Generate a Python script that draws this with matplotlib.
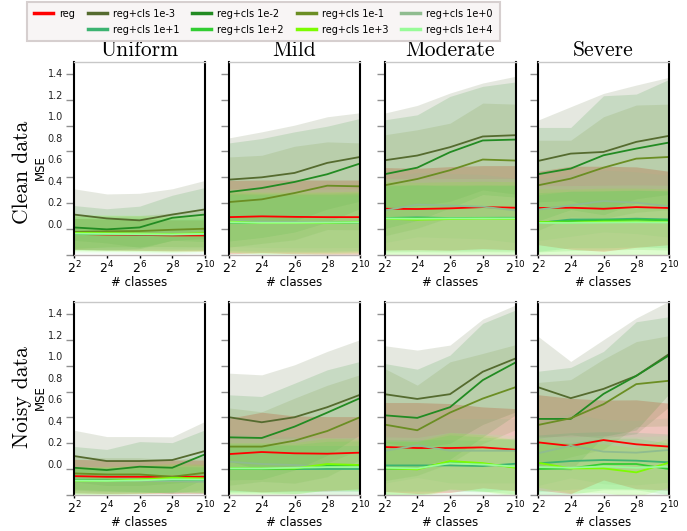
import matplotlib
matplotlib.use("Agg")
import matplotlib.pyplot as plt
from matplotlib.lines import Line2D
import numpy as np

# ---------------- data ----------------
N_CLASSES = [4, 16, 64, 256, 1024]
SERIES = ["reg", "reg+cls 1e-3", "reg+cls 1e-2", "reg+cls 1e-1", "reg+cls 1e+0",
          "reg+cls 1e+1", "reg+cls 1e+2", "reg+cls 1e+3", "reg+cls 1e+4"]
COLORS = ["#ff0000", "#556b2f", "#228b22", "#6b8e23", "#8fbc8f",
          "#3cb371", "#32cd32", "#7cfc00", "#98fb98"]
COL_TITLES = ["Uniform", "Mild", "Moderate", "Severe"]
ROW_TITLES = ["Clean data", "Noisy data"]
YTICK_LABELS = ["1.4", "1.2", "1.0", "0.8", "0.6", "0.4", "0.2", "0.0"]

CLEAN_UNIFORM_MEAN = [
    [0.160, 0.155, 0.152, 0.148, 0.148],
    [0.310, 0.280, 0.265, 0.310, 0.350],
    [0.210, 0.195, 0.210, 0.285, 0.310],
    [0.175, 0.180, 0.182, 0.192, 0.200],
    [0.165, 0.162, 0.160, 0.158, 0.160],
    [0.160, 0.158, 0.155, 0.155, 0.158],
    [0.165, 0.162, 0.160, 0.158, 0.162],
    [0.168, 0.165, 0.162, 0.158, 0.165],
    [0.162, 0.160, 0.158, 0.156, 0.160]]
CLEAN_UNIFORM_STD = [
    [0.12, 0.12, 0.12, 0.12, 0.12],
    [0.20, 0.19, 0.21, 0.20, 0.225],
    [0.17, 0.16, 0.165, 0.175, 0.21],
    [0.13, 0.12, 0.12, 0.13, 0.14],
    [0.11, 0.11, 0.11, 0.11, 0.11],
    [0.12, 0.12, 0.12, 0.12, 0.12],
    [0.13, 0.13, 0.13, 0.13, 0.13],
    [0.14, 0.14, 0.14, 0.14, 0.14],
    [0.15, 0.15, 0.15, 0.15, 0.15]]

CLEAN_MILD_MEAN = [
    [0.290, 0.296, 0.292, 0.290, 0.290],
    [0.581, 0.599, 0.633, 0.711, 0.757],
    [0.485, 0.516, 0.563, 0.623, 0.706],
    [0.407, 0.428, 0.477, 0.534, 0.529],
    [0.262, 0.255, 0.252, 0.252, 0.255],
    [0.250, 0.245, 0.245, 0.245, 0.250],
    [0.248, 0.244, 0.244, 0.246, 0.250],
    [0.256, 0.244, 0.244, 0.246, 0.252],
    [0.250, 0.246, 0.246, 0.248, 0.250]]
CLEAN_MILD_STD = [
    [0.285, 0.282, 0.286, 0.288, 0.288],
    [0.324, 0.353, 0.371, 0.358, 0.343],
    [0.381, 0.384, 0.389, 0.373, 0.350],
    [0.350, 0.342, 0.363, 0.340, 0.337],
    [0.20, 0.20, 0.20, 0.20, 0.20],
    [0.22, 0.22, 0.22, 0.22, 0.22],
    [0.23, 0.23, 0.23, 0.23, 0.23],
    [0.24, 0.24, 0.24, 0.24, 0.24],
    [0.26, 0.26, 0.26, 0.26, 0.26]]

CLEAN_MODERATE_MEAN = [
    [0.355, 0.353, 0.358, 0.368, 0.363],
    [0.731, 0.768, 0.833, 0.916, 0.926],
    [0.623, 0.674, 0.794, 0.885, 0.892],
    [0.537, 0.586, 0.654, 0.737, 0.729],
    [0.342, 0.387, 0.379, 0.371, 0.342],
    [0.283, 0.288, 0.283, 0.285, 0.285],
    [0.280, 0.282, 0.280, 0.282, 0.280],
    [0.278, 0.270, 0.275, 0.278, 0.275],
    [0.280, 0.278, 0.280, 0.280, 0.280]]
CLEAN_MODERATE_STD = [
    [0.320, 0.316, 0.324, 0.322, 0.327],
    [0.366, 0.389, 0.420, 0.415, 0.457],
    [0.422, 0.410, 0.433, 0.420, 0.447],
    [0.392, 0.382, 0.365, 0.438, 0.438],
    [0.25, 0.25, 0.25, 0.25, 0.25],
    [0.25, 0.25, 0.25, 0.25, 0.25],
    [0.26, 0.26, 0.26, 0.26, 0.26],
    [0.29, 0.29, 0.29, 0.29, 0.29],
    [0.31, 0.31, 0.31, 0.31, 0.31]]

CLEAN_SEVERE_MEAN = [
    [0.361, 0.363, 0.355, 0.368, 0.361],
    [0.726, 0.783, 0.796, 0.874, 0.921],
    [0.623, 0.667, 0.770, 0.822, 0.869],
    [0.537, 0.589, 0.674, 0.744, 0.757],
    [0.348, 0.381, 0.415, 0.402, 0.374],
    [0.244, 0.272, 0.272, 0.278, 0.272],
    [0.250, 0.260, 0.265, 0.270, 0.265],
    [0.252, 0.247, 0.255, 0.255, 0.250],
    [0.245, 0.245, 0.248, 0.250, 0.248]]
CLEAN_SEVERE_STD = [
    [0.285, 0.322, 0.330, 0.312, 0.285],
    [0.317, 0.364, 0.454, 0.441, 0.454],
    [0.363, 0.319, 0.462, 0.423, 0.490],
    [0.350, 0.298, 0.395, 0.416, 0.410],
    [0.24, 0.24, 0.24, 0.24, 0.24],
    [0.22, 0.22, 0.22, 0.22, 0.22],
    [0.23, 0.23, 0.23, 0.23, 0.23],
    [0.26, 0.26, 0.26, 0.26, 0.26],
    [0.29, 0.29, 0.29, 0.29, 0.29]]

NOISY_UNIFORM_MEAN = [
    [0.145, 0.140, 0.140, 0.140, 0.140],
    [0.301, 0.262, 0.262, 0.270, 0.340],
    [0.210, 0.192, 0.218, 0.210, 0.314],
    [0.166, 0.158, 0.158, 0.140, 0.171],
    [0.120, 0.114, 0.109, 0.106, 0.101],
    [0.115, 0.112, 0.115, 0.118, 0.115],
    [0.112, 0.110, 0.115, 0.125, 0.122],
    [0.109, 0.109, 0.119, 0.132, 0.127],
    [0.110, 0.108, 0.112, 0.120, 0.118]]
NOISY_UNIFORM_STD = [
    [0.13, 0.13, 0.13, 0.13, 0.13],
    [0.20, 0.19, 0.19, 0.18, 0.23],
    [0.165, 0.16, 0.195, 0.195, 0.19],
    [0.13, 0.13, 0.13, 0.13, 0.13],
    [0.09, 0.09, 0.09, 0.09, 0.09],
    [0.10, 0.10, 0.10, 0.10, 0.10],
    [0.10, 0.10, 0.10, 0.10, 0.10],
    [0.11, 0.11, 0.11, 0.11, 0.11],
    [0.11, 0.11, 0.11, 0.11, 0.11]]

NOISY_MILD_MEAN = [
    [0.316, 0.332, 0.322, 0.319, 0.327],
    [0.602, 0.563, 0.602, 0.680, 0.776],
    [0.446, 0.441, 0.529, 0.638, 0.750],
    [0.374, 0.374, 0.420, 0.495, 0.602],
    [0.257, 0.239, 0.231, 0.218, 0.223],
    [0.200, 0.200, 0.200, 0.200, 0.200],
    [0.205, 0.205, 0.200, 0.225, 0.228],
    [0.205, 0.205, 0.205, 0.239, 0.231],
    [0.205, 0.205, 0.210, 0.215, 0.215]]
NOISY_MILD_STD = [
    [0.278, 0.309, 0.290, 0.288, 0.280],
    [0.342, 0.368, 0.407, 0.433, 0.428],
    [0.330, 0.322, 0.337, 0.332, 0.285],
    [0.30, 0.27, 0.33, 0.355, 0.33],
    [0.22, 0.22, 0.22, 0.22, 0.22],
    [0.18, 0.18, 0.18, 0.18, 0.18],
    [0.19, 0.19, 0.19, 0.19, 0.19],
    [0.20, 0.20, 0.20, 0.20, 0.20],
    [0.23, 0.23, 0.23, 0.23, 0.23]]

NOISY_MODERATE_MEAN = [
    [0.371, 0.363, 0.363, 0.368, 0.350],
    [0.781, 0.744, 0.781, 0.955, 1.058],
    [0.617, 0.597, 0.680, 0.890, 1.027],
    [0.545, 0.501, 0.638, 0.747, 0.835],
    [0.340, 0.384, 0.342, 0.342, 0.342],
    [0.228, 0.228, 0.228, 0.223, 0.241],
    [0.203, 0.203, 0.255, 0.240, 0.215],
    [0.208, 0.197, 0.262, 0.246, 0.210],
    [0.210, 0.205, 0.245, 0.235, 0.220]]
NOISY_MODERATE_STD = [
    [0.345, 0.353, 0.345, 0.314, 0.319],
    [0.376, 0.379, 0.381, 0.409, 0.415],
    [0.402, 0.378, 0.404, 0.441, 0.407],
    [0.435, 0.350, 0.394, 0.350, 0.330],
    [0.25, 0.25, 0.25, 0.25, 0.25],
    [0.20, 0.20, 0.20, 0.20, 0.20],
    [0.21, 0.21, 0.21, 0.21, 0.21],
    [0.22, 0.22, 0.22, 0.22, 0.22],
    [0.24, 0.24, 0.24, 0.24, 0.24]]

NOISY_SEVERE_MEAN = [
    [0.407, 0.379, 0.425, 0.392, 0.374],
    [0.835, 0.750, 0.822, 0.923, 1.092],
    [0.589, 0.589, 0.783, 0.923, 1.082],
    [0.542, 0.594, 0.703, 0.859, 0.885],
    [0.322, 0.381, 0.335, 0.327, 0.348],
    [0.244, 0.262, 0.270, 0.265, 0.252],
    [0.200, 0.205, 0.239, 0.239, 0.200],
    [0.249, 0.205, 0.205, 0.174, 0.249],
    [0.215, 0.210, 0.220, 0.210, 0.220]]
NOISY_SEVERE_STD = [
    [0.370, 0.370, 0.310, 0.345, 0.337],
    [0.395, 0.285, 0.382, 0.449, 0.410],
    [0.370, 0.400, 0.330, 0.420, 0.300],
    [0.330, 0.300, 0.350, 0.330, 0.350],
    [0.25, 0.25, 0.25, 0.25, 0.25],
    [0.22, 0.22, 0.22, 0.22, 0.22],
    [0.20, 0.20, 0.20, 0.20, 0.20],
    [0.19, 0.19, 0.19, 0.19, 0.19],
    [0.24, 0.24, 0.24, 0.24, 0.24]]

PANELS = [
    [(CLEAN_UNIFORM_MEAN, CLEAN_UNIFORM_STD), (CLEAN_MILD_MEAN, CLEAN_MILD_STD),
     (CLEAN_MODERATE_MEAN, CLEAN_MODERATE_STD), (CLEAN_SEVERE_MEAN, CLEAN_SEVERE_STD)],
    [(NOISY_UNIFORM_MEAN, NOISY_UNIFORM_STD), (NOISY_MILD_MEAN, NOISY_MILD_STD),
     (NOISY_MODERATE_MEAN, NOISY_MODERATE_STD), (NOISY_SEVERE_MEAN, NOISY_SEVERE_STD)],
]

# ---------------- layout ----------------
W, H = 687, 531
fig = plt.figure(figsize=(W / 100, H / 100), dpi=100)

col_left = [74, 229, 384.5, 538]
ax_w = 131
row_top = [62, 302.3]
ax_h = 192.5
YTOP = 1.494
major_ticks = [0.0, 0.2, 0.4, 0.6, 0.8, 1.0, 1.2, 1.4]
label_pos = [1.408 - k * 0.167 for k in range(len(YTICK_LABELS))]
ALPHAS = [0.22] + [0.15] * 8

x = np.array(N_CLASSES, dtype=float)

for r in range(2):
    for c in range(4):
        ax = fig.add_axes([col_left[c] / W, 1 - (row_top[r] + ax_h) / H, ax_w / W, ax_h / H])
        mean, std = PANELS[r][c]
        mean = np.array(mean)
        std = np.array(std)
        for i in range(len(SERIES)):
            ax.fill_between(x, mean[i] - std[i], mean[i] + std[i], color=COLORS[i],
                            alpha=ALPHAS[i], lw=0, zorder=1)
        for i in range(len(SERIES)):
            ax.plot(x, mean[i], color=COLORS[i], lw=1.3, zorder=2)
        ax.set_xscale("log", base=2)
        ax.set_xlim(4, 1024)
        ax.set_xticks(N_CLASSES)
        ax.minorticks_off()
        ax.set_ylim(0, YTOP)
        ax.set_yticks(major_ticks)
        ax.set_yticklabels([])
        ax.tick_params(axis="y", which="major", length=6, width=1, color="#909090",
                       direction="out")
        ax.set_yticks(label_pos, minor=True)
        if c == 0:
            ax.set_yticklabels(YTICK_LABELS, minor=True)
        else:
            ax.set_yticklabels([""] * len(label_pos), minor=True)
        ax.tick_params(axis="y", which="minor", length=0, labelsize=7, pad=8,
                       labelcolor="#222222")
        ax.tick_params(axis="x", which="major", length=2.5, width=1, color="black",
                       labelsize=9, pad=1)
        ax.tick_params(axis="x", which="minor", length=0)
        ax.set_xlabel("# classes", fontsize=8.5, labelpad=0)
        for s in ("left", "right"):
            ax.spines[s].set_color("black")
            ax.spines[s].set_linewidth(1.5)
        ax.spines["top"].set_color("#c8c8c8")
        ax.spines["top"].set_linewidth(1)
        ax.spines["bottom"].set_color("#b8b0b0")
        ax.spines["bottom"].set_linewidth(1)
        if r == 0:
            ax.set_title(COL_TITLES[c], fontsize=15.5, family="cmr10", pad=4)

# row labels and MSE labels
fig.text(22 / W, 1 - 172 / H, ROW_TITLES[0], rotation=90, fontsize=15.5, family="cmr10",
         ha="center", va="center")
fig.text(22 / W, 1 - 397 / H, ROW_TITLES[1], rotation=90, fontsize=15.5, family="cmr10",
         ha="center", va="center")
fig.text(40 / W, 1 - 168 / H, "MSE", rotation=90, fontsize=8.5, ha="center", va="center")
fig.text(40 / W, 1 - 398 / H, "MSE", rotation=90, fontsize=8.5, ha="center", va="center")

# legend
handles = [Line2D([], [], color=col, lw=2.5) for col in COLORS]
blank = Line2D([], [], color="none", lw=0)
order = [0, None, 1, 5, 2, 6, 3, 7, 4, 8]
hs = [handles[i] if i is not None else blank for i in order]
ls = [SERIES[i] if i is not None else "" for i in order]
leg = fig.legend(hs, ls, ncol=5, loc="upper left", bbox_to_anchor=(27 / W, 1 - 2 / H),
                 fontsize=7, handlelength=2.0, handletextpad=0.6, columnspacing=1.3,
                 frameon=True, fancybox=False, facecolor="#f8f5f5", edgecolor="#d6cfcf",
                 borderaxespad=0, borderpad=0.7, labelspacing=0.6, framealpha=1)
leg.get_frame().set_linewidth(1.5)

fig.savefig("out.png", dpi=100)
